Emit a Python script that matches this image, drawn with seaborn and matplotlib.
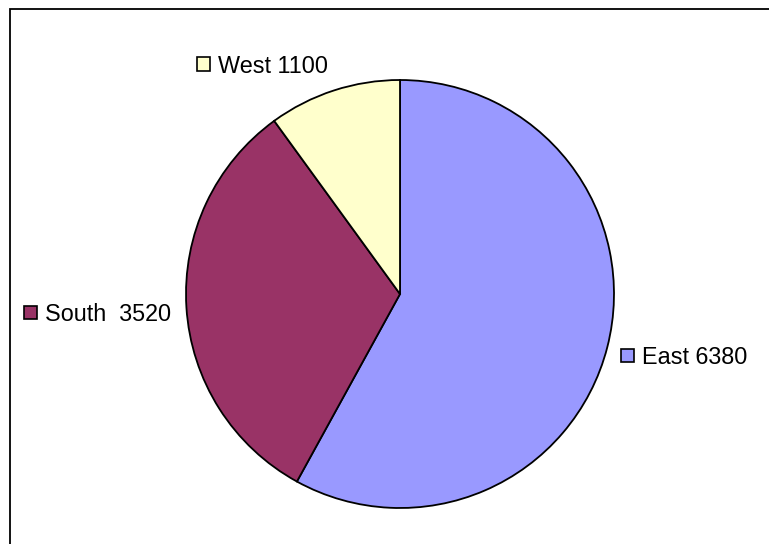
import matplotlib
matplotlib.use("Agg")
import matplotlib.pyplot as plt
from matplotlib.patches import Rectangle
import seaborn as sns

# Regional totals
regions = ["East", "South", "West"]
values = [6380, 3520, 1100]
gaps = [" ", "  ", " "]
colors = ["#9999FF", "#993366", "#FFFFCC"]

sns.set_theme(style="white")
plt.rcParams["font.family"] = ["Liberation Sans", "DejaVu Sans"]

W, H = 769, 544
fig = plt.figure(figsize=(W / 100, H / 100), dpi=100)
fig.patch.set_facecolor("white")

# Pie axes: centre (400, 294) px from top-left, radius 214 px
cx, cy, r = 400, 294, 214
ax = fig.add_axes([(cx - r) / W, (H - cy - r) / H, 2 * r / W, 2 * r / H])
ax.pie(values, colors=colors, startangle=90, counterclock=False,
       wedgeprops=dict(edgecolor="black", linewidth=1.3), radius=1.0)
ax.set_xlim(-1.0, 1.0)
ax.set_ylim(-1.0, 1.0)
ax.set_aspect("equal")
ax.axis("off")


def px(x, y):
    return x / W, 1 - y / H


# Labels with a small colour key, positions in pixels from top-left
label_pos = [(621, 355), (24, 312), (197, 64)]
for name, val, gap, col, (lx, ly) in zip(regions, values, gaps, colors, label_pos):
    sx, sy = px(lx, ly + 6.5)
    fig.patches.append(Rectangle((sx, sy), 13 / W, 13 / H, transform=fig.transFigure,
                                 facecolor=col, edgecolor="black", linewidth=1.2))
    tx, ty = px(lx + 21, ly)
    fig.text(tx, ty, f"{name}{gap}{val}", fontsize=16.8, color="black",
             ha="left", va="center_baseline")

# Chart frame
fx, fy = px(10, H + 20)
fig.patches.append(Rectangle((fx, fy), (W + 20) / W, (H + 20 - 9) / H,
                             transform=fig.transFigure, facecolor="none",
                             edgecolor="black", linewidth=1.3))

fig.savefig("out.png", dpi=100)
